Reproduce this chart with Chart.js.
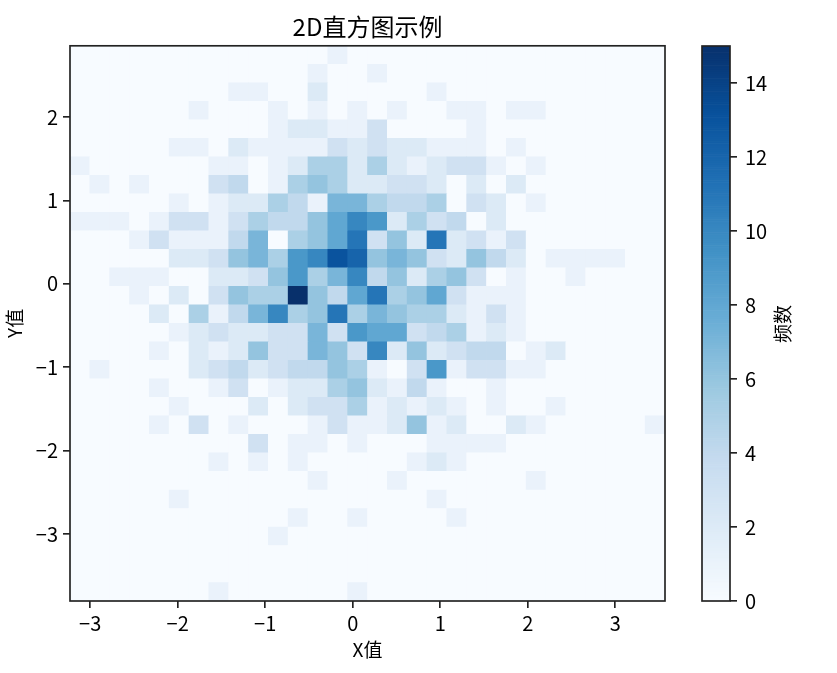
<!DOCTYPE html>
<html>
<head>
<meta charset="utf-8">
<script src="https://cdn.jsdelivr.net/npm/chart.js@4"></script>
<style>
  body { margin: 0; background: #fff; }
  #wrap { position: relative; width: 837px; height: 673px; }
  canvas { position: absolute; top: 0; }
  #heat { left: 0; }
  #bar { left: 690px; }
</style>
</head>
<body>
<div id="wrap">
  <canvas id="heat" width="690" height="673"></canvas>
  <canvas id="bar" width="147" height="673"></canvas>
</div>
<script>
// Axis limits
const xRange = [-3.231, 3.569];
const yRange = [-3.801, 2.854];
const xTicks = [-3, -2, -1, 0, 1, 2, 3];
const yTicks = [-3, -2, -1, 0, 1, 2];
const barTicks = [0, 2, 4, 6, 8, 10, 12, 14];
const barMax = 15;

// Counts per bin, top row first, 30 x 30
const counts = [
  [0,0,0,0,0,0,0,0,0,0,0,0,0,1,0,0,0,0,0,0,0,0,0,0,0,0,0,0,0,0],
  [0,0,0,0,0,0,0,0,0,0,0,0,1,0,0,1,0,0,0,0,0,0,0,0,0,0,0,0,0,0],
  [0,0,0,0,0,0,0,0,1,1,0,0,2,0,0,0,0,0,1,0,0,0,0,0,0,0,0,0,0,0],
  [0,0,0,0,0,0,1,0,0,0,1,0,1,0,1,0,1,0,0,1,1,0,1,1,0,0,0,0,0,0],
  [0,0,0,0,0,0,0,0,0,0,1,2,2,1,1,3,0,0,0,0,1,0,0,0,0,0,0,0,0,0],
  [0,0,0,0,0,1,1,0,2,1,1,1,1,3,2,3,2,2,1,1,1,0,1,0,0,0,0,0,0,0],
  [1,0,0,0,0,0,0,1,1,0,1,2,5,5,2,5,2,1,2,3,3,1,0,1,0,0,0,0,0,0],
  [0,1,0,1,0,0,0,3,4,0,1,5,6,5,2,2,3,3,2,0,2,0,2,0,0,0,0,0,0,0],
  [0,0,0,0,0,1,0,1,2,2,5,4,1,7,7,5,4,4,5,0,3,2,0,1,0,0,0,0,0,0],
  [1,1,1,0,1,3,3,1,3,5,4,4,6,8,10,9,2,5,3,4,0,2,0,0,0,0,0,0,0,0],
  [0,0,0,1,3,1,1,1,4,7,0,5,6,8,11,3,6,2,11,2,3,1,3,0,0,0,0,0,0,0],
  [0,0,0,0,0,2,2,3,6,7,5,9,10,13,12,6,7,6,3,2,6,4,2,0,1,1,1,1,0,0],
  [0,0,1,1,1,0,0,2,2,3,6,9,5,7,10,4,6,2,5,6,3,0,1,0,0,1,0,0,0,0],
  [0,0,0,1,0,2,0,3,6,5,5,15,6,4,8,11,5,6,8,3,1,1,1,0,0,0,0,0,0,0],
  [0,0,0,0,2,0,5,1,4,7,10,5,6,11,5,7,6,5,5,2,1,3,1,0,0,0,0,0,0,0],
  [0,0,0,0,0,1,2,3,2,2,3,3,7,3,9,8,8,3,4,5,1,2,1,0,0,0,0,0,0,0],
  [0,0,0,0,1,0,2,1,2,6,3,3,7,6,3,10,2,6,2,3,4,4,0,1,2,0,0,0,0,0],
  [0,1,0,0,0,0,2,3,4,2,3,4,4,6,5,1,0,3,9,1,3,3,1,1,0,0,0,0,0,0],
  [0,0,0,0,1,0,0,1,3,0,1,2,2,5,6,2,1,4,1,0,0,1,0,0,0,0,0,0,0,0],
  [0,0,0,0,0,1,0,0,0,2,0,2,3,3,5,1,2,1,2,1,0,1,0,0,1,0,0,0,0,0],
  [0,0,0,0,1,0,3,0,1,0,0,0,1,3,1,1,2,6,1,2,0,0,2,1,0,0,0,0,0,1],
  [0,0,0,0,0,0,0,0,0,3,0,1,1,0,1,0,0,0,1,1,1,1,0,0,0,0,0,0,0,0],
  [0,0,0,0,0,0,0,1,0,1,0,1,0,0,0,0,0,1,2,1,0,0,0,0,0,0,0,0,0,0],
  [0,0,0,0,0,0,0,0,0,0,0,0,1,0,0,0,1,0,0,0,0,0,0,1,0,0,0,0,0,0],
  [0,0,0,0,0,1,0,0,0,0,0,0,0,0,0,0,0,0,1,0,0,0,0,0,0,0,0,0,0,0],
  [0,0,0,0,0,0,0,0,0,0,0,1,0,0,1,0,0,0,0,1,0,0,0,0,0,0,0,0,0,0],
  [0,0,0,0,0,0,0,0,0,0,1,0,0,0,0,0,0,0,0,0,0,0,0,0,0,0,0,0,0,0],
  [0,0,0,0,0,0,0,0,0,0,0,0,0,0,0,0,0,0,0,0,0,0,0,0,0,0,0,0,0,0],
  [0,0,0,0,0,0,0,0,0,0,0,0,0,0,0,0,0,0,0,0,0,0,0,0,0,0,0,0,0,0],
  [0,0,0,0,0,0,0,1,0,0,0,0,0,0,1,0,0,0,0,0,0,0,0,0,0,0,0,0,0,0]
];

// matplotlib Blues
const blues = [[247,251,255],[222,235,247],[198,219,239],[158,202,225],[107,174,214],[66,146,198],[33,113,181],[8,81,156],[8,48,107]];

const textFont = "'Noto Sans CJK SC', sans-serif";
const tickFont = "'Liberation Sans Narrow', 'Noto Sans CJK SC', sans-serif";
const inkColor = '#222';

function blueFor(v)
{
  const t = Math.min(v / barMax, 1) * 8;
  const i = Math.min(Math.floor(t), 7);
  const f = t - i;
  const c = blues[i].map((a, k) => Math.round(a + (blues[i + 1][k] - a) * f));
  return `rgb(${c[0]},${c[1]},${c[2]})`;
}

const minusLabel = v => String(v).replace('-', '\u2212');

// Frame round the plot area, the scales only give two sides
const framePlugin = {
  id: 'frame',
  afterDatasetsDraw(chart)
  {
    const { ctx, chartArea: a } = chart;
    ctx.save();
    ctx.strokeStyle = inkColor;
    ctx.lineWidth = 1.67;
    ctx.strokeRect(a.left, a.top, a.right - a.left, a.bottom - a.top);
    ctx.restore();
  }
};

// Heat map cells as floating bars
const cellW = (xRange[1] - xRange[0]) / counts[0].length;
const cellH = (yRange[1] - yRange[0]) / counts.length;
const cells = [];
counts.forEach((row, r) =>
{
  row.forEach((n, c) =>
  {
    const top = yRange[1] - r * cellH;
    cells.push({ x: xRange[0] + (c + 0.5) * cellW, y: [top - cellH, top], n: n });
  });
});

const tickGrid = { offset: false, drawOnChartArea: false, drawTicks: true, tickLength: 7, tickColor: inkColor, tickWidth: 1.67, lineWidth: 1.67 };

function tickAxis(range, ticks, label, tickPad, titlePad)
{
  return {
    type: 'linear',
    offset: false,
    min: range[0],
    max: range[1],
    afterBuildTicks: s => { s.ticks = ticks.map(v => ({ value: v })); },
    grid: tickGrid,
    border: { display: false },
    ticks: {
      color: '#000',
      padding: tickPad,
      maxRotation: 0,
      font: { family: tickFont, size: 20 },
      callback: minusLabel
    },
    title: { display: true, text: label, color: '#000', font: { family: textFont, size: 19 }, padding: titlePad }
  };
}

const xAxis = tickAxis(xRange, xTicks, 'X值', 3, { top: 4, bottom: 12 });
xAxis.afterFit = s => { s.height = 72; };
const yAxis = tickAxis(yRange, yTicks, 'Y值', 5, { top: 3, bottom: 8 });
yAxis.afterFit = s => { s.width = 70; };

new Chart(document.getElementById('heat'), {
  type: 'bar',
  data: {
    datasets: [{
      data: cells,
      backgroundColor: ctx => blueFor(ctx.raw ? ctx.raw.n : 0),
      barPercentage: 1,
      categoryPercentage: 1,
      borderWidth: 0
    }]
  },
  options: {
    responsive: false,
    animation: false,
    layout: { padding: { left: 0, right: 25, top: 0, bottom: 0 } },
    scales: { x: xAxis, y: yAxis },
    plugins: {
      legend: { display: false },
      tooltip: { enabled: false },
      title: {
        display: true,
        text: '2D直方图示例',
        color: '#000',
        fullSize: false,
        font: { family: textFont, size: 24, weight: 'normal', lineHeight: 1.2 },
        padding: { top: 12, bottom: 5 }
      }
    }
  },
  plugins: [framePlugin]
});

// Colour bar
const barLevels = [];
for (let i = 0; i < 256; i++)
{
  barLevels.push(i * barMax / 256);
}

const barLabelPlugin = {
  id: 'barLabel',
  afterDraw(chart)
  {
    const { ctx } = chart;
    ctx.save();
    ctx.translate(93, 324);
    ctx.rotate(-Math.PI / 2);
    ctx.font = `19px ${textFont}`;
    ctx.fillStyle = '#000';
    ctx.textAlign = 'center';
    ctx.textBaseline = 'middle';
    ctx.fillText('频数', 0, 0);
    ctx.restore();
  }
};

new Chart(document.getElementById('bar'), {
  type: 'bar',
  data: {
    labels: [''],
    datasets: barLevels.map(v => ({
      data: [[v, v + barMax / 256]],
      backgroundColor: blueFor(v),
      barPercentage: 1,
      categoryPercentage: 1,
      grouped: false,
      borderWidth: 0
    }))
  },
  options: {
    responsive: false,
    animation: false,
    layout: { padding: { left: 12, right: 0, top: 46, bottom: 72 } },
    scales: {
      x: { display: false },
      y: {
        position: 'right',
        min: 0,
        max: barMax,
        afterBuildTicks: s => { s.ticks = barTicks.map(v => ({ value: v })); },
        afterFit: s => { s.width = 107; },
        grid: tickGrid,
        border: { display: false },
        ticks: { color: '#000', padding: 8, font: { family: tickFont, size: 20 } }
      }
    },
    plugins: { legend: { display: false }, tooltip: { enabled: false } }
  },
  plugins: [framePlugin, barLabelPlugin]
});
</script>
</body>
</html>
